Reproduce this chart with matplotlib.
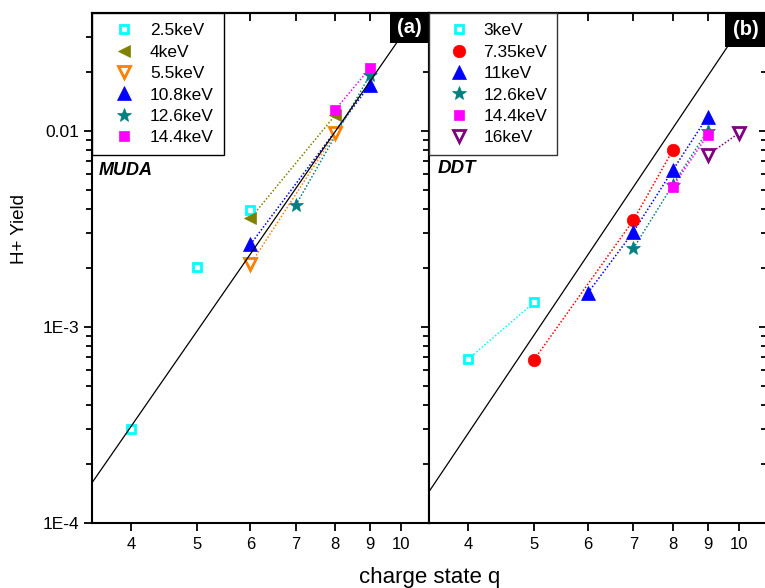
import matplotlib
matplotlib.use("Agg")
import matplotlib.pyplot as plt
from matplotlib.patches import Rectangle
from matplotlib.ticker import FixedLocator, NullFormatter, NullLocator

plt.rcParams["font.family"] = ["Liberation Sans", "DejaVu Sans"]

# panel (a): MUDA, H+ yield vs charge state for each projectile energy
muda_labels = ["2.5keV", "4keV", "5.5keV", "10.8keV", "12.6keV", "14.4keV"]
muda_q = [[4, 5, 6], [6, 8], [6, 8], [6, 9], [7, 9], [8, 9]]
muda_yield = [[3.0e-4, 2.02e-3, 3.94e-3],
              [3.57e-3, 1.20e-2],
              [2.08e-3, 9.7e-3],
              [2.63e-3, 1.71e-2],
              [4.18e-3, 1.92e-2],
              [1.28e-2, 2.08e-2]]
muda_joined = [False, True, True, True, True, True]

# panel (b): DDT
ddt_labels = ["3keV", "7.35keV", "11keV", "12.6keV", "14.4keV", "16keV"]
ddt_q = [[4, 5], [5, 7, 8], [6, 7, 8, 9], [7, 8, 9], [8, 9], [9, 10]]
ddt_yield = [[6.85e-4, 1.33e-3],
             [6.8e-4, 3.5e-3, 7.97e-3],
             [1.49e-3, 3.05e-3, 6.3e-3, 1.18e-2],
             [2.51e-3, 5.3e-3, 1.0e-2],
             [5.18e-3, 9.5e-3],
             [7.5e-3, 9.7e-3]]
ddt_joined = [True, True, True, True, True, True]

# power-law guide lines (end points)
fit_a_q = [3.5, 11]
fit_a_yield = [1.59e-4, 4.86e-2]
fit_b_q = [3.5, 11]
fit_b_yield = [1.44e-4, 5.34e-2]

q_ticks = [4, 5, 6, 7, 8, 9, 10]
y_ticks = [1e-4, 1e-3, 1e-2]
y_ticklabels = ["1E-4", "1E-3", "0.01"]

# marker styles: (marker, colour, filled, size)
muda_styles = [("s", "#00ffff", False, 5.5), ("<", "#808000", True, 9),
               ("v", "#ff7f00", False, 8), ("^", "#0000ff", True, 10),
               ("*", "#008080", True, 10), ("s", "#ff00ff", True, 7.5)]
ddt_styles = [("s", "#00ffff", False, 5.5), ("o", "#ff0000", True, 9),
              ("^", "#0000ff", True, 10), ("*", "#008080", True, 10),
              ("s", "#ff00ff", True, 7.5), ("v", "#800080", False, 8)]


def style_axes(ax, right_panel):
    """Log-log axes with Origin-like ticks."""
    ax.set_xscale("log")
    ax.set_yscale("log")
    ax.set_xlim(3.5, 11)
    ax.set_ylim(1e-4, 0.0397)
    ax.xaxis.set_major_locator(FixedLocator(q_ticks))
    ax.xaxis.set_minor_locator(NullLocator())
    ax.set_xticklabels([str(q) for q in q_ticks])
    ax.xaxis.set_minor_formatter(NullFormatter())
    ax.yaxis.set_major_locator(FixedLocator(y_ticks))
    ax.set_yticklabels(y_ticklabels)
    ax.yaxis.set_minor_formatter(NullFormatter())
    for s in ax.spines.values():
        s.set_linewidth(1.5)
    ax.tick_params(axis="x", which="major", direction="out", length=6,
                   width=1.3, labelsize=12, pad=4, top=False)
    ax.tick_params(axis="y", which="both", width=1.3, labelsize=12.5, pad=3)
    ax.tick_params(axis="y", which="major", length=6)
    ax.tick_params(axis="y", which="minor", length=4)
    # top ticks point inward, bottom ones outward
    sec = ax.secondary_xaxis("top")
    sec.xaxis.set_major_locator(FixedLocator(q_ticks))
    sec.xaxis.set_minor_locator(NullLocator())
    sec.tick_params(direction="in", length=6, width=1.3, labeltop=False)
    sec.spines["top"].set_linewidth(1.5)
    if right_panel:
        ax.tick_params(axis="y", which="both", left=False, labelleft=False,
                       right=True, direction="in")
    else:
        ax.tick_params(axis="y", which="both", direction="out")
        secy = ax.secondary_yaxis("right")
        secy.set_yscale("log")
        secy.tick_params(axis="y", which="both", direction="in", width=1.3,
                         labelright=False)
        secy.tick_params(axis="y", which="major", length=6)
        secy.tick_params(axis="y", which="minor", length=4)
        secy.yaxis.set_minor_formatter(NullFormatter())
        secy.yaxis.set_major_formatter(NullFormatter())


def draw_panel(ax, labels, qs, ys, joined, styles, fit_q, fit_y):
    """Plot the guide line, dotted connections and markers of one panel."""
    ax.plot(fit_q, fit_y, color="black", lw=0.9, zorder=4)
    handles = []
    for lab, q, y, j, (m, c, filled, ms) in zip(labels, qs, ys, joined,
                                                 styles):
        if j:
            ax.plot(q, y, ls=(0, (1, 1.3)), lw=1.1, color=c, zorder=2)
        h, = ax.plot(q, y, ls="none", marker=m, ms=ms, mew=2 if not filled
                     else 0.5, mec=c, mfc=c if filled else "white",
                     label=lab, zorder=3)
        handles.append(h)
    return handles


def main():
    fig = plt.figure(figsize=(7.65, 5.88), dpi=100)
    W, H = 765.0, 588.0
    bottom = (H - 522.7) / H
    height = 509.4 / H
    ax_a = fig.add_axes([91.7 / W, bottom, 337.3 / W, height])
    ax_b = fig.add_axes([429.0 / W, bottom, 337.8 / W, height])

    style_axes(ax_a, False)
    style_axes(ax_b, True)

    h_a = draw_panel(ax_a, muda_labels, muda_q, muda_yield, muda_joined,
                     muda_styles, fit_a_q, fit_a_yield)
    h_b = draw_panel(ax_b, ddt_labels, ddt_q, ddt_yield, ddt_joined,
                     ddt_styles, fit_b_q, fit_b_yield)

    for ax, h, hl, tp, ec in [(ax_a, h_a, 2.57, 0.21, "black"),
                              (ax_b, h_b, 2.37, 0.2, "#333333")]:
        leg = ax.legend(handles=h, loc="upper left", bbox_to_anchor=(0, 1),
                        borderaxespad=0, fontsize=12.5, fancybox=False,
                        framealpha=1, edgecolor=ec, handlelength=hl,
                        handletextpad=tp, labelspacing=0.36, borderpad=0.57)
        leg.get_frame().set_linewidth(1.0)
        leg.set_zorder(6)

    # panel tags in black boxes
    for ax, x0, y0, tag in [(ax_a, 0.884, 0.9417, "(a)"),
                            (ax_b, 0.876, 0.934, "(b)")]:
        ax.add_patch(Rectangle((x0, y0), 1.2 - x0, 0.1, transform=ax.transAxes,
                               facecolor="black", edgecolor="none",
                               zorder=7, clip_on=True))
        ax.text((x0 + 1) / 2, (y0 + 1) / 2 + 0.002, tag, transform=ax.transAxes,
                color="white", fontsize=14.5, fontweight="bold",
                ha="center", va="center", zorder=8)

    ax_a.text(0.02, 0.692, "MUDA", transform=ax_a.transAxes, fontsize=13,
              fontweight="bold", fontstyle="italic", va="center")
    ax_b.text(0.026, 0.696, "DDT", transform=ax_b.transAxes, fontsize=13.5,
              fontweight="bold", fontstyle="italic", va="center")

    fig.text(20 / W, 1 - 228.5 / H, "H+ Yield", rotation=90, fontsize=13.5,
             ha="center", va="center")
    fig.text(429.3 / W, 1 - 577.5 / H, "charge state q", fontsize=16,
             ha="center", va="center")

    fig.savefig("out.png", dpi=100)


if __name__ == '__main__':
    main()
